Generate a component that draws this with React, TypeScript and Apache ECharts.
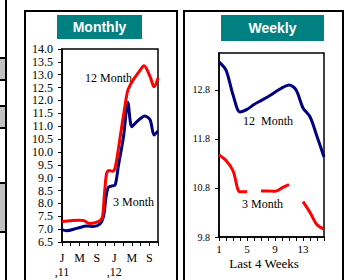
import React, { useEffect, useRef } from "react";
import * as echarts from "echarts";

// ---------- Monthly panel (x = months since Jan 2011) ----------
const monthlyLetters = ["J", "M", "S", "J", "M", "S"];
const monthlyYears = [",11", "", "", ",12", "", ""];

const monthly12X = [0, 2, 4, 5, 6.3, 7.5, 8.7, 9.3, 9.7, 10.2, 10.7, 11.6, 12.2, 13, 13.7, 14.4, 15.1, 16.3, 17.5, 18.8, 20.2, 21.1, 22];
const monthly12Y = [7.3, 7.33, 7.35, 7.33, 7.22, 7.25, 7.33, 7.5, 8.3, 9.15, 9.28, 9.25, 9.4, 10.2, 11.0, 11.75, 12.4, 12.8, 13.08, 13.35, 12.92, 12.53, 12.87];

const monthly3X = [0, 1, 3.4, 5.7, 7.2, 8.7, 9.5, 10.1, 10.6, 11.5, 12.2, 12.9, 14.1, 15.1, 16, 17.1, 19, 20.2, 21.1, 22];
const monthly3Y = [6.98, 6.94, 7.03, 7.12, 7.1, 7.2, 7.48, 8.26, 8.62, 8.68, 8.72, 9.43, 10.6, 11.92, 10.98, 11.17, 11.4, 11.24, 10.66, 10.82];

const monthlyYTicks = { min: 6.5, max: 14, interval: 0.5 };

// ---------- Weekly panel ----------
const weeks = ["1", "2", "3", "4", "5", "6", "7", "8", "9", "10", "11", "12", "13", "14", "15", "16"];
const weekly12 = [13.37, 13.2, 12.7, 12.35, 12.4, 12.5, 12.58, 12.66, 12.75, 12.84, 12.9, 12.8, 12.43, 12.25, 11.85, 11.43];
const weekly3: (number | null)[] = [11.47, 11.36, 11.15, 10.72, 10.72, null, 10.74, 10.74, 10.73, 10.8, 10.87, null, 10.52, 10.3, 10.05, 9.96];
const weeklyYLabels = [9.8, 10.8, 11.8, 12.8];

const SERIF = "'Liberation Serif', 'Times New Roman', serif";
const SANS = "'Liberation Sans', Arial, sans-serif";

export default function App() {
  const ref = useRef<HTMLDivElement>(null);

  useEffect(() => {
    if (!ref.current) return;
    const chart = echarts.init(ref.current, undefined, { renderer: "svg" });

    const axisLine = { show: true, lineStyle: { color: "#000", width: 1.5 } };
    const tick = { show: true, length: 4, lineStyle: { color: "#000", width: 1 } };

    const option: any = {
      animation: false,
      backgroundColor: "#fff",
      grid: [
        { left: 62, top: 49, width: 96, height: 193, show: true, borderColor: "#000", borderWidth: 1.5 },
        { left: 219, top: 53, width: 105, height: 184, show: true, borderColor: "#000", borderWidth: 1.5 },
      ],
      xAxis: [
        {
          gridIndex: 0,
          type: "value",
          min: 0,
          max: 22,
          interval: 2,
          axisLine,
          axisTick: tick,
          splitLine: { show: false },
          axisLabel: {
            color: "#000",
            fontFamily: SERIF,
            fontSize: 12,
            lineHeight: 14,
            margin: 9,
            formatter: (v: number) => {
              if (v % 4 !== 0) return "";
              const i = v / 4;
              if (i >= monthlyLetters.length) return "";
              return monthlyYears[i] ? monthlyLetters[i] + "\n" + monthlyYears[i] : monthlyLetters[i];
            },
          },
        },
        {
          gridIndex: 1,
          type: "category",
          data: weeks,
          boundaryGap: false,
          axisLine,
          axisTick: { ...tick, interval: 0 },
          splitLine: { show: false },
          axisLabel: {
            color: "#000",
            fontFamily: SERIF,
            fontSize: 11,
            margin: 6,
            interval: (i: number) => i % 4 === 0,
          },
        },
      ],
      yAxis: [
        {
          gridIndex: 0,
          type: "value",
          min: monthlyYTicks.min,
          max: monthlyYTicks.max,
          interval: monthlyYTicks.interval,
          axisLine,
          axisTick: tick,
          splitLine: { show: false },
          axisLabel: {
            color: "#000",
            fontFamily: SERIF,
            fontSize: 12,
            margin: 9,
            formatter: (v: number) => v.toFixed(1),
          },
        },
        {
          gridIndex: 1,
          type: "value",
          min: 9.8,
          max: 13.55,
          interval: 1,
          axisLine,
          axisTick: { ...tick, customValues: weeklyYLabels },
          splitLine: { show: false },
          axisLabel: {
            color: "#000",
            fontFamily: SERIF,
            fontSize: 10,
            margin: 9,
            customValues: weeklyYLabels,
            formatter: (v: number) => v.toFixed(1),
          },
        },
      ],
      series: [
        {
          name: "3 Month",
          type: "line",
          xAxisIndex: 0,
          yAxisIndex: 0,
          data: monthly3X.map((x, i) => [x, monthly3Y[i]]),
          smooth: 0.3,
          symbol: "none",
          lineStyle: { color: "#000080", width: 3 },
        },
        {
          name: "12 Month",
          type: "line",
          xAxisIndex: 0,
          yAxisIndex: 0,
          data: monthly12X.map((x, i) => [x, monthly12Y[i]]),
          smooth: 0.3,
          symbol: "none",
          lineStyle: { color: "#ff0000", width: 3 },
        },
        {
          name: "12 Month W",
          type: "line",
          xAxisIndex: 1,
          yAxisIndex: 1,
          data: weekly12,
          smooth: 0.3,
          symbol: "none",
          lineStyle: { color: "#000080", width: 3 },
        },
        {
          name: "3 Month W",
          type: "line",
          xAxisIndex: 1,
          yAxisIndex: 1,
          data: weekly3.map((v) => (v == null ? "-" : v)),
          smooth: 0.3,
          symbol: "none",
          connectNulls: false,
          lineStyle: { color: "#ff0000", width: 3 },
        },
      ],
      graphic: [
        // left page strip
        { type: "rect", shape: { x: 0, y: 58, width: 6, height: 22 }, style: { fill: "#c0c0c0" } },
        { type: "rect", shape: { x: 0, y: 106, width: 6, height: 22 }, style: { fill: "#c0c0c0" } },
        { type: "rect", shape: { x: 0, y: 183, width: 6, height: 49 }, style: { fill: "#c0c0c0" } },
        ...[58, 80, 106, 128, 183, 232].map((y) => ({
          type: "line",
          shape: { x1: 0, y1: y, x2: 7, y2: y },
          style: { stroke: "#000", lineWidth: 2 },
        })),
        { type: "line", shape: { x1: 6, y1: 0, x2: 6, y2: 280 }, style: { stroke: "#000", lineWidth: 2 } },
        // panel frames
        { type: "rect", shape: { x: 25, y: 11, width: 152, height: 300 }, style: { fill: "none", stroke: "#000", lineWidth: 2 } },
        { type: "rect", shape: { x: 184, y: 11, width: 159, height: 300 }, style: { fill: "none", stroke: "#000", lineWidth: 2 } },
        // titles
        { type: "rect", shape: { x: 57, y: 15, width: 85, height: 24 }, style: { fill: "#008080" } },
        {
          type: "text",
          x: 99.5,
          y: 27,
          style: { text: "Monthly", fill: "#fff", font: `bold 14px ${SANS}`, textAlign: "center", textVerticalAlign: "middle" },
        },
        { type: "rect", shape: { x: 221, y: 15, width: 103, height: 26 }, style: { fill: "#008080" } },
        {
          type: "text",
          x: 272.5,
          y: 28,
          style: { text: "Weekly", fill: "#fff", font: `bold 14px ${SANS}`, textAlign: "center", textVerticalAlign: "middle" },
        },
        // series labels
        { type: "text", x: 85, y: 78, style: { text: "12 Month", fill: "#000", font: `12px ${SERIF}`, textVerticalAlign: "middle" } },
        { type: "text", x: 113, y: 202, style: { text: "3 Month", fill: "#000", font: `12px ${SERIF}`, textVerticalAlign: "middle" } },
        { type: "text", x: 243, y: 121, style: { text: "12  Month", fill: "#000", font: `12px ${SERIF}`, textVerticalAlign: "middle" } },
        { type: "text", x: 242, y: 204, style: { text: "3 Month", fill: "#000", font: `12px ${SERIF}`, textVerticalAlign: "middle" } },
        {
          type: "text",
          x: 264,
          y: 263,
          style: { text: "Last 4 Weeks", fill: "#000", font: `13px ${SERIF}`, textAlign: "center", textVerticalAlign: "middle" },
        },
      ],
    };

    chart.setOption(option);
    return () => chart.dispose();
  }, []);

  return (
    <div
      ref={ref}
      style={{ position: "fixed", left: 0, top: 0, width: 349, height: 280 }}
    />
  );
}
